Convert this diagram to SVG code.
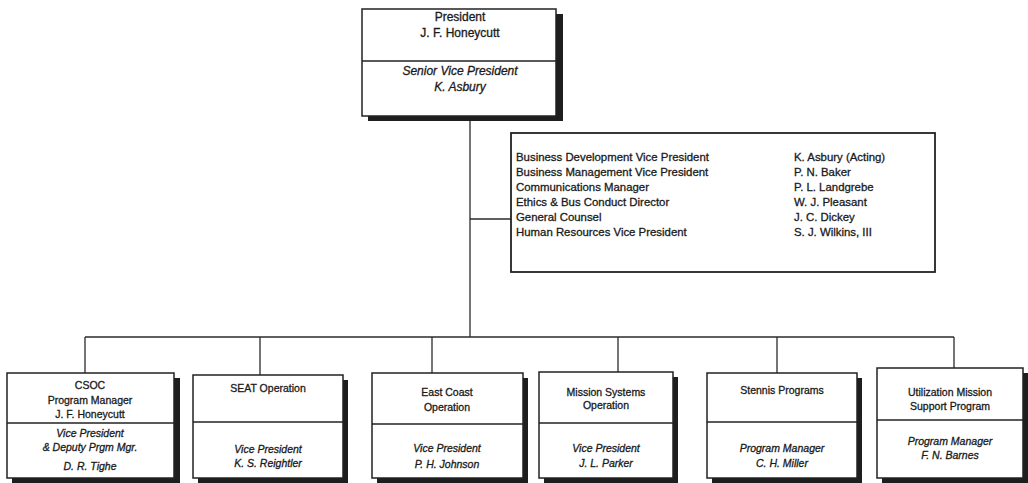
<svg xmlns="http://www.w3.org/2000/svg" width="1028" height="483" viewBox="0 0 1028 483">
  <style>
    .box { fill: #fff; stroke: #222; stroke-width: 1.5; }
    .shadow { fill: #1e1e1e; }
    .div { stroke: #222; stroke-width: 1.3; }
    .conn { fill: none; stroke: #2a2a2a; stroke-width: 1.3; }
    text { font-family: "Liberation Sans", Arial, sans-serif; fill: #1a1a1a; stroke: #1a1a1a; stroke-width: 0.3; text-anchor: middle; dominant-baseline: central; }
    .t12 { font-size: 12px; }
    .t11 { font-size: 11.4px; text-anchor: start; }
    .t10 { font-size: 10.5px; }
    .it { font-style: italic; }
  </style>

  <rect width="1028" height="483" fill="#fff"/>

  <!-- reporting lines -->
  <g id="connectors">
    <path class="conn" d="M470 116 V337"/>
    <path class="conn" d="M470 219 H511"/>
    <path class="conn" d="M85 337 H954"/>
    <path class="conn" d="M85 337 V373"/>
    <path class="conn" d="M260 337 V375"/>
    <path class="conn" d="M432 337 V373"/>
    <path class="conn" d="M618 337 V372"/>
    <path class="conn" d="M777 337 V373"/>
    <path class="conn" d="M954 337 V368"/>
  </g>

  <!-- top office -->
  <g id="president">
    <rect class="shadow" x="368" y="14" width="195" height="107"/>
    <rect class="box" x="362" y="9" width="194" height="107"/>
    <line class="div" x1="362" y1="61" x2="556" y2="61"/>
    <text class="t12" x="460" y="17">President</text>
    <text class="t12" x="460" y="33">J. F. Honeycutt</text>
    <text class="t12 it" x="460" y="71">Senior Vice President</text>
    <text class="t12 it" x="460" y="87">K. Asbury</text>
  </g>

  <!-- staff offices -->
  <g id="staff">
    <rect class="box" x="511" y="133" width="424" height="139" style="stroke-width:1.8"/>
    <text class="t11" x="516" y="157">Business Development Vice President</text>
    <text class="t11" x="516" y="172">Business Management Vice President</text>
    <text class="t11" x="516" y="187">Communications Manager</text>
    <text class="t11" x="516" y="202">Ethics &amp; Bus Conduct Director</text>
    <text class="t11" x="516" y="217">General Counsel</text>
    <text class="t11" x="516" y="232">Human Resources Vice President</text>
    <text class="t11" x="794" y="157">K. Asbury (Acting)</text>
    <text class="t11" x="794" y="172">P. N. Baker</text>
    <text class="t11" x="794" y="187">P. L. Landgrebe</text>
    <text class="t11" x="794" y="202">W. J. Pleasant</text>
    <text class="t11" x="794" y="217">J. C. Dickey</text>
    <text class="t11" x="794" y="232">S. J. Wilkins, III</text>
  </g>

  <g id="csoc">
    <rect class="shadow" x="12" y="378" width="168" height="105"/>
    <rect class="box" x="7" y="373" width="167" height="105"/>
    <line class="div" x1="7" y1="423" x2="174" y2="423"/>
    <text class="t10" x="90" y="385">CSOC</text>
    <text class="t10" x="90" y="400">Program Manager</text>
    <text class="t10" x="90" y="414">J. F. Honeycutt</text>
    <text class="t10 it" x="90" y="433">Vice President</text>
    <text class="t10 it" x="90" y="447">&amp; Deputy Prgm Mgr.</text>
    <text class="t10 it" x="90" y="466">D. R. Tighe</text>
  </g>

  <g id="seat">
    <rect class="shadow" x="198" y="380" width="150" height="103"/>
    <rect class="box" x="193" y="375" width="150" height="103"/>
    <line class="div" x1="193" y1="422" x2="343" y2="422"/>
    <text class="t10" x="268" y="388">SEAT Operation</text>
    <text class="t10 it" x="268" y="449">Vice President</text>
    <text class="t10 it" x="268" y="463">K. S. Reightler</text>
  </g>

  <g id="east-coast">
    <rect class="shadow" x="377" y="378" width="151" height="105"/>
    <rect class="box" x="372" y="373" width="151" height="105"/>
    <line class="div" x1="372" y1="424" x2="523" y2="424"/>
    <text class="t10" x="447" y="392">East Coast</text>
    <text class="t10" x="447" y="407">Operation</text>
    <text class="t10 it" x="447" y="448">Vice President</text>
    <text class="t10 it" x="447" y="464">P. H. Johnson</text>
  </g>

  <g id="mission-systems">
    <rect class="shadow" x="544" y="377" width="134" height="106"/>
    <rect class="box" x="539" y="372" width="134" height="106"/>
    <line class="div" x1="539" y1="423" x2="673" y2="423"/>
    <text class="t10" x="606" y="392">Mission Systems</text>
    <text class="t10" x="606" y="405">Operation</text>
    <text class="t10 it" x="606" y="448">Vice President</text>
    <text class="t10 it" x="606" y="463">J. L. Parker</text>
  </g>

  <g id="stennis">
    <rect class="shadow" x="712" y="378" width="150" height="105"/>
    <rect class="box" x="707" y="373" width="150" height="105"/>
    <line class="div" x1="707" y1="422" x2="857" y2="422"/>
    <text class="t10" x="782" y="390">Stennis Programs</text>
    <text class="t10 it" x="782" y="448">Program Manager</text>
    <text class="t10 it" x="782" y="463">C. H. Miller</text>
  </g>

  <g id="utilization">
    <rect class="shadow" x="882" y="373" width="146" height="110"/>
    <rect class="box" x="877" y="368" width="146" height="110"/>
    <line class="div" x1="877" y1="420" x2="1023" y2="420"/>
    <text class="t10" x="950" y="392">Utilization Mission</text>
    <text class="t10" x="950" y="406">Support Program</text>
    <text class="t10 it" x="950" y="441">Program Manager</text>
    <text class="t10 it" x="950" y="455">F. N. Barnes</text>
  </g>
</svg>
